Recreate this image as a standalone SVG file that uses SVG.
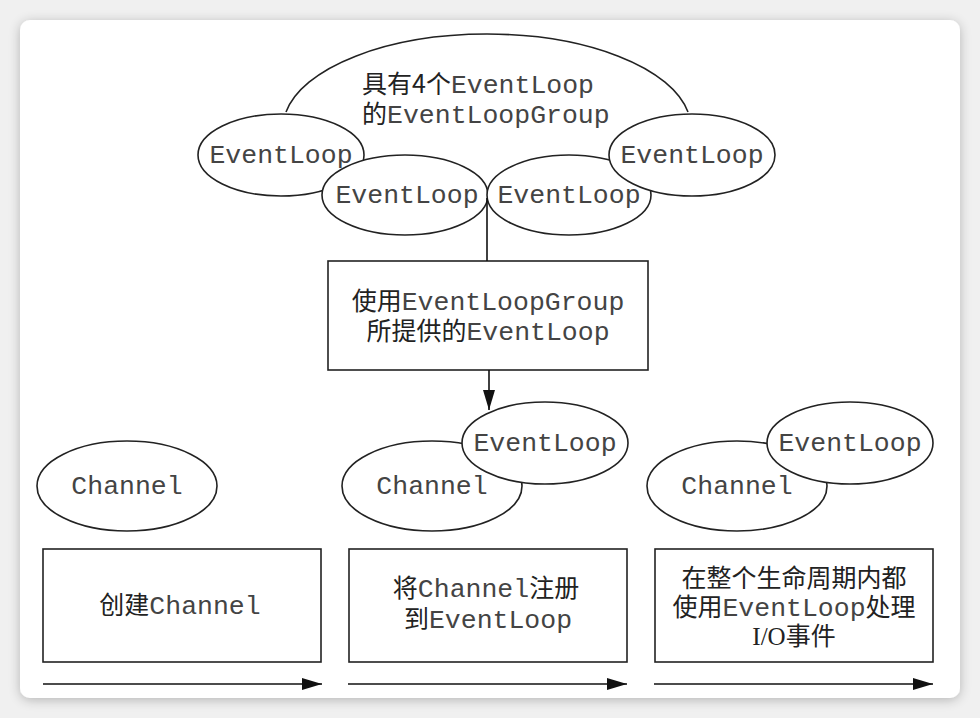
<svg xmlns="http://www.w3.org/2000/svg" width="980" height="718" viewBox="0 0 980 718">
<defs>
<filter id="sh" x="-5%" y="-5%" width="110%" height="110%">
<feGaussianBlur in="SourceAlpha" stdDeviation="6"/>
<feOffset dy="2"/>
<feComponentTransfer><feFuncA type="linear" slope="0.25"/></feComponentTransfer>
<feMerge><feMergeNode/><feMergeNode in="SourceGraphic"/></feMerge>
</filter>
<marker id="ah" viewBox="0 0 20 12" refX="20" refY="6" markerWidth="20" markerHeight="12" markerUnits="userSpaceOnUse" orient="auto">
<path d="M0,0 L20,6 L0,12 Z" fill="#111"/>
</marker>
</defs>
<style>
.sh{fill:#fff;stroke:#222;stroke-width:1.6}
.ln{fill:none;stroke:#111;stroke-width:1.6}
.m{font-family:"Liberation Mono","DejaVu Sans Mono",monospace;font-size:26.5px;fill:#444}
.c{font-family:"Noto Sans CJK SC","Noto Sans",sans-serif;font-size:25px;fill:#222}
.s{font-family:"Liberation Serif",serif;font-size:25px;fill:#222}
</style>
<rect width="980" height="718" fill="#f0f0f0"/>
<rect x="20" y="20" width="940" height="678" rx="10" fill="#fff" filter="url(#sh)"/>

<g id="group">
<path class="sh" d="M286,112 A204,94 0 0 1 688,112"/>
<text x="362" y="93"><tspan class="c">具有4个</tspan><tspan class="m">EventLoop</tspan></text>
<text x="362" y="123"><tspan class="c">的</tspan><tspan class="m">EventLoopGroup</tspan></text>
</g>
<g id="el1"><ellipse class="sh" cx="281" cy="155" rx="83" ry="41"/><text class="m" x="281" y="163" text-anchor="middle">EventLoop</text></g>
<g id="el2"><ellipse class="sh" cx="405" cy="195" rx="83" ry="40"/><text class="m" x="407" y="203" text-anchor="middle">EventLoop</text></g>
<g id="el3"><ellipse class="sh" cx="569" cy="195" rx="82" ry="40"/><text class="m" x="569" y="203" text-anchor="middle">EventLoop</text></g>
<g id="el4"><ellipse class="sh" cx="692" cy="155" rx="83" ry="41"/><text class="m" x="692" y="163" text-anchor="middle">EventLoop</text></g>

<g id="provide">
<rect class="sh" x="328" y="261" width="320" height="109"/>
<text x="488" y="310" text-anchor="middle"><tspan class="c">使用</tspan><tspan class="m">EventLoopGroup</tspan></text>
<text x="488" y="340" text-anchor="middle"><tspan class="c">所提供的</tspan><tspan class="m">EventLoop</tspan></text>
</g>

<g id="ch1"><ellipse class="sh" cx="127" cy="486" rx="90" ry="45"/><text class="m" x="127" y="494" text-anchor="middle">Channel</text></g>
<g id="step1"><rect class="sh" x="43" y="549" width="278" height="113"/>
<text x="180" y="614" text-anchor="middle"><tspan class="c">创建</tspan><tspan class="m">Channel</tspan></text></g>

<g id="ch2"><ellipse class="sh" cx="432" cy="486" rx="90" ry="45"/><text class="m" x="432" y="494" text-anchor="middle">Channel</text></g>
<g id="el5"><ellipse class="sh" cx="545" cy="443" rx="83" ry="41"/><text class="m" x="545" y="451" text-anchor="middle">EventLoop</text></g>
<g id="step2"><rect class="sh" x="349" y="549" width="278" height="113"/>
<text x="486" y="597" text-anchor="middle"><tspan class="c">将</tspan><tspan class="m">Channel</tspan><tspan class="c">注册</tspan></text>
<text x="488" y="628" text-anchor="middle"><tspan class="c">到</tspan><tspan class="m">EventLoop</tspan></text></g>

<g id="ch3"><ellipse class="sh" cx="737" cy="486" rx="90" ry="45"/><text class="m" x="737" y="494" text-anchor="middle">Channel</text></g>
<g id="el6"><ellipse class="sh" cx="850" cy="443" rx="83" ry="41"/><text class="m" x="850" y="451" text-anchor="middle">EventLoop</text></g>
<g id="step3"><rect class="sh" x="655" y="549" width="278" height="113"/>
<text x="794" y="587" text-anchor="middle"><tspan class="c">在整个生命周期内都</tspan></text>
<text x="794" y="616" text-anchor="middle"><tspan class="c">使用</tspan><tspan class="m">EventLoop</tspan><tspan class="c">处理</tspan></text>
<text x="794" y="645" text-anchor="middle"><tspan class="s">I/O</tspan><tspan class="c">事件</tspan></text></g>

<g id="connectors">
<line class="ln" x1="487" y1="198" x2="487" y2="261"/>
<line class="ln" x1="489" y1="370" x2="489" y2="410" marker-end="url(#ah)"/>
<line class="ln" x1="43" y1="684" x2="322" y2="684" marker-end="url(#ah)"/>
<line class="ln" x1="348" y1="684" x2="627" y2="684" marker-end="url(#ah)"/>
<line class="ln" x1="654" y1="684" x2="933" y2="684" marker-end="url(#ah)"/>
</g>
</svg>
